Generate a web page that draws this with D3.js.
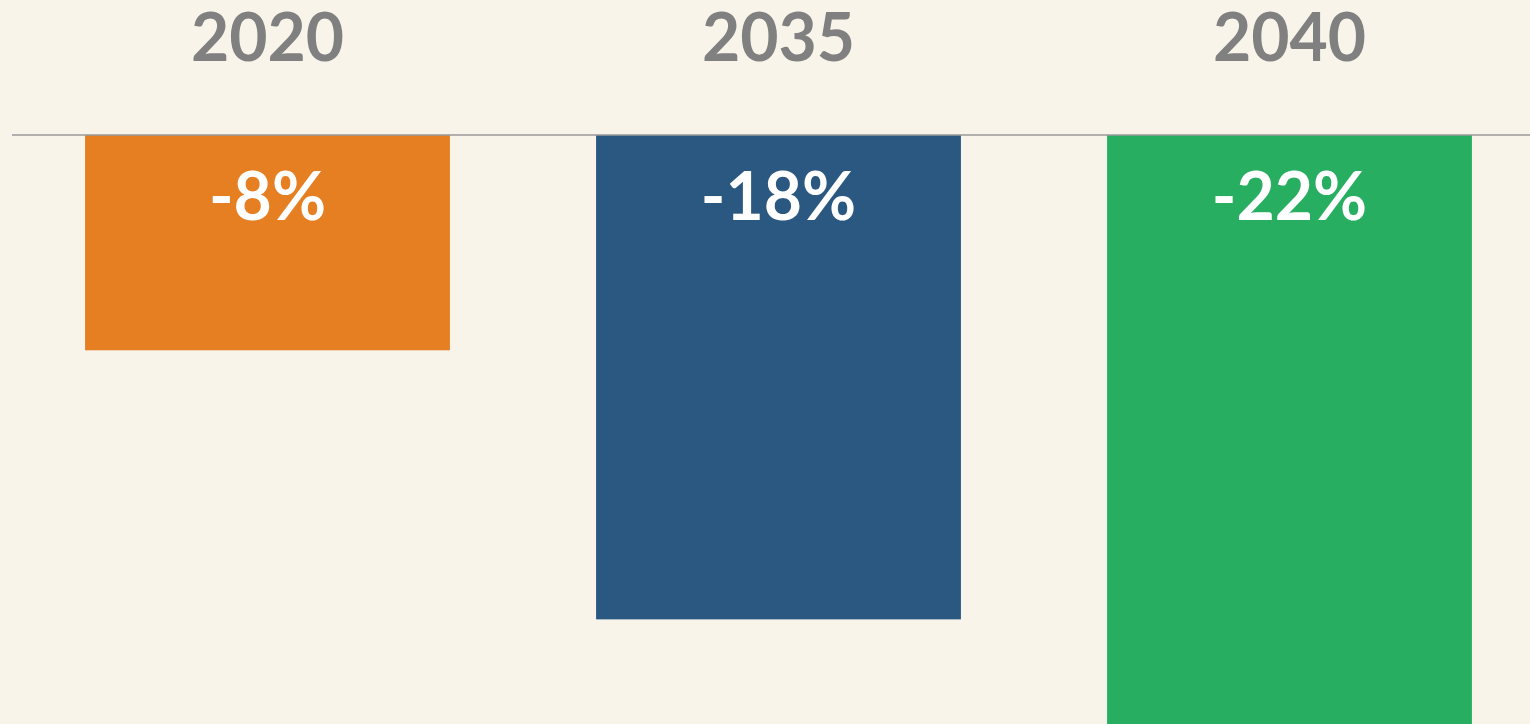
<!DOCTYPE html>
<html><head><meta charset="utf-8">
<script src="https://cdn.jsdelivr.net/npm/d3@7/dist/d3.min.js"></script>
<style>html,body{margin:0;padding:0;background:#F8F4EA;overflow:hidden}svg{display:block}</style>
</head><body>
<svg id="c" width="1530" height="724"></svg>
<script>
const categories = ["2020", "2035", "2040"];
const values = [-8, -18, -22];
const labels = ["-8%", "-18%", "-22%"];
const colors = ["#E67E22", "#2A5880", "#27AE60"];

const W = 1530, H = 724;
const svg = d3.select("#c");
svg.append("rect").attr("width", W).attr("height", H).attr("fill", "#F8F4EA");

const x = d3.scaleBand().domain(categories).range([12, 1545]).paddingInner(0.286).paddingOuter(0.143);
const y = d3.scaleLinear().domain([0, -22]).range([135, 727]);

svg.selectAll("rect.bar").data(values).join("rect")
  .attr("class", "bar")
  .attr("x", (d, i) => x(categories[i]))
  .attr("width", x.bandwidth())
  .attr("y", y(0))
  .attr("height", d => y(d) - y(0))
  .attr("fill", (d, i) => colors[i]);

svg.append("line").attr("x1", 12).attr("x2", W).attr("y1", y(0)).attr("y2", y(0))
  .attr("stroke", "#9a9a9a").attr("stroke-width", 1.5);

svg.selectAll("text.cat").data(categories).join("text")
  .attr("class", "cat")
  .attr("x", d => x(d) + x.bandwidth() / 2)
  .attr("y", 61)
  .attr("text-anchor", "middle")
  .attr("font-family", "Lato, 'Open Sans', sans-serif")
  .attr("font-weight", "bold")
  .attr("font-size", 66)
  .attr("fill", "#808080")
  .text(d => d);

svg.selectAll("text.val").data(labels).join("text")
  .attr("class", "val")
  .attr("x", (d, i) => x(categories[i]) + x.bandwidth() / 2)
  .attr("y", 220)
  .attr("text-anchor", "middle")
  .attr("font-family", "Lato, 'Open Sans', sans-serif")
  .attr("font-weight", "bold")
  .attr("font-size", 66)
  .attr("fill", "#FFFFFF")
  .text(d => d);
</script>
</body></html>
